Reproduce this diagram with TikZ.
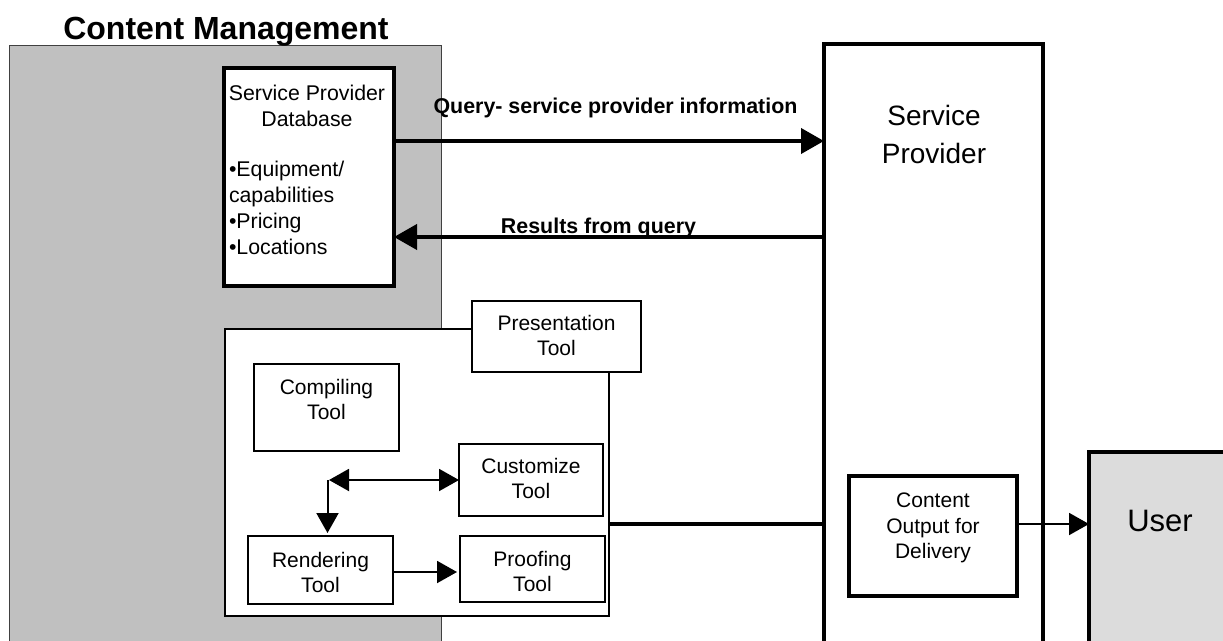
\documentclass[tikz,border=0pt]{standalone}
\usepackage{fontspec}
\setmainfont{Liberation Sans}
\usetikzlibrary{arrows.meta}
\definecolor{panelgray}{HTML}{C0C0C0}
\definecolor{usergray}{HTML}{DCDCDC}
\tikzset{
  thinbox/.style={draw=black,line width=2pt,fill=white,inner sep=0pt,outer sep=0pt},
  thickbox/.style={draw=black,line width=4pt,fill=white,inner sep=0pt,outer sep=0pt},
  thickline/.style={line width=4pt,draw=black},
  thinline/.style={line width=2pt,draw=black},
  bigtip/.style={-{Triangle[length=23pt,width=25pt]}},
  smalltip/.style={-{Triangle[length=20pt,width=22pt]}},
  duotip/.style={{Triangle[length=20pt,width=22pt]}-{Triangle[length=20pt,width=22pt]}},
  qlabel/.style={font=\fontsize{21.4}{24}\selectfont\bfseries,inner sep=0pt},
}
% style, name, x1, y1, x2, y2, top padding, text
\newcommand{\labelledbox}[8]{%
  \pgfmathsetmacro{\bxw}{#5-#3}\pgfmathsetmacro{\bxh}{#6-#4}%
  \pgfmathsetmacro{\bxx}{(#3+#5)/2}\pgfmathsetmacro{\bxy}{(#4+#6)/2}%
  \node[#1] (#2) at (\bxx,\bxy) {\parbox[c][\bxh pt][t]{\bxw pt}{\vspace*{#7pt}\fontsize{21}{25.5}\selectfont\centering #8\par}};%
}
\begin{document}
\begin{tikzpicture}[x=1pt,y=-1pt]
\useasboundingbox (0,0) rectangle (1223,640);
\clip (0,0) rectangle (1223,640);
% panels
\node[draw=black!75,line width=1pt,fill=panelgray,minimum width=432pt,minimum height=610pt,inner sep=0pt,outer sep=0pt] (cm) at (225,350) {};
\node[inner sep=0pt] (cmtitle) at (226,32) {\fontsize{32}{34}\selectfont\bfseries Content Management};
\node[thickbox,minimum width=219pt,minimum height=640pt] (sp) at (933.5,364) {};
\node[inner sep=0pt,align=center,font=\fontsize{28}{38}\selectfont] (sptext) at (934,134) {Service\\Provider};
\node[thickbox,fill=usergray,minimum width=180pt,minimum height=260pt] (user) at (1179,582) {};
\node[inner sep=0pt,font=\fontsize{31}{34}\selectfont] (usertext) at (1160,521) {User};
% database
\node[thickbox,minimum width=170pt,minimum height=218pt] (db) at (309,177) {\parbox[c][218pt][t]{164pt}{\vspace*{17pt}\fontsize{21.3}{26.3}\selectfont{\raggedright\leftskip=2pt \makebox[156pt]{Service Provider}\\\makebox[156pt]{Database}\par}\vspace{23pt}{\raggedright\leftskip=2pt \textbullet Equipment/\\capabilities\\\textbullet Pricing\\\textbullet Locations\par}}};
% presentation group
\node[thinbox,minimum width=384pt,minimum height=287pt] (outer) at (417,472.5) {};
\labelledbox{thinbox}{pres}{472}{301}{641}{372}{14}{Presentation\\Tool}
\labelledbox{thinbox}{comp}{254}{364}{399}{451}{15}{Compiling\\Tool}
\labelledbox{thinbox}{cust}{459}{444}{603}{516}{14}{Customize\\Tool}
\labelledbox{thinbox}{rend}{248}{536}{393}{604}{16}{Rendering\\Tool}
\labelledbox{thinbox}{proof}{460}{536}{605}{602}{15}{Proofing\\Tool}
\labelledbox{thickbox}{out}{849}{476}{1017}{596}{17}{Content\\Output for\\Delivery}
% connector helper coordinates
\coordinate (qy) at (0,141);
\coordinate (ry) at (0,237);
\coordinate (ly) at (0,524);
\coordinate (bend) at (327.5,480);
\coordinate (py) at (0,572);
\coordinate (ptip) at (457,572);
\coordinate (ctip) at (329,480);
\coordinate (rtip) at (327.5,533);
% connectors
\draw[thickline,bigtip] (db.east|-qy) -- (sp.west|-qy);
\draw[thickline,bigtip] (sp.west|-ry) -- (db.east|-ry);
\draw[thickline] (outer.east|-ly) -- (sp.west|-ly);
\draw[thinline,smalltip] (out.east|-ly) -- (user.west|-ly);
\draw[thinline,duotip] (ctip) -- (cust.west);
\draw[thinline,smalltip] (bend) -- (rtip);
\draw[thinline,smalltip] (rend.east|-py) -- (ptip);
% connector labels
\node[qlabel] (qlab) at (615.5,108) {Query- service provider information};
\node[qlabel] (rlab) at (598.5,228) {Results from query};
\end{tikzpicture}
\end{document}
